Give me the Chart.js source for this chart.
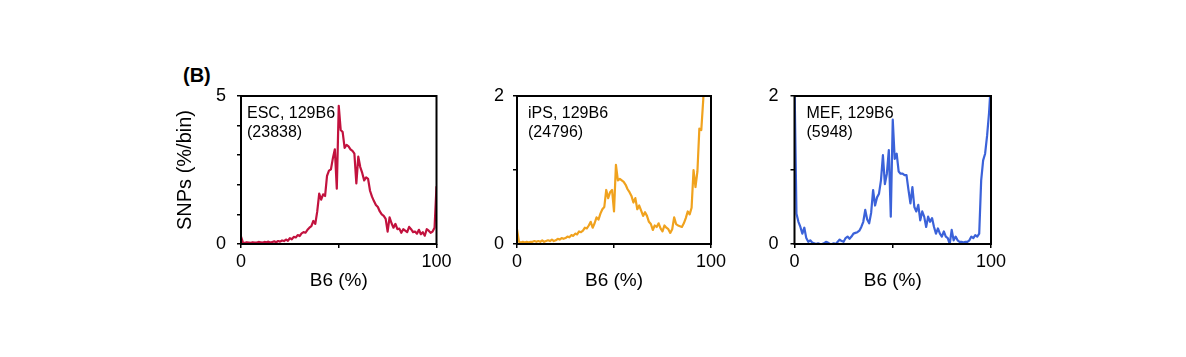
<!DOCTYPE html>
<html><head><meta charset="utf-8">
<script src="https://cdn.jsdelivr.net/npm/chart.js@4"></script>
<style>
html,body{margin:0;padding:0;background:#fff;width:1186px;height:357px;overflow:hidden;}
canvas{position:absolute;top:50px;}
#lbl{position:absolute;left:183px;top:66px;font:bold 20px 'Liberation Sans',Arial,Helvetica,sans-serif;line-height:19px;color:#000;}
</style></head><body>
<div id="lbl">(B)</div>
<canvas id="c1" width="310" height="260" style="left:160px"></canvas>
<canvas id="c2" width="270" height="260" style="left:470px"></canvas>
<canvas id="c3" width="280" height="260" style="left:750px"></canvas>
<script>
// bin positions (% B6)
const bins = [0,1,2,3,4,5,6,7,8,9,10,11,12,13,14,15,16,17,18,19,20,21,22,23,24,25,26,27,28,29,30,31,32,33,34,35,36,37,38,39,40,41,42,43,44,45,46,47,48,49,50,51,52,53,54,55,56,57,58,59,60,61,62,63,64,65,66,67,68,69,70,71,72,73,74,75,76,77,78,79,80,81,82,83,84,85,86,87,88,89,90,91,92,93,94,95,96,97,98,99,100];

// SNPs (%/bin)
const escValues = [0.25,0.05,0.04,0.06,0.05,0.04,0.06,0.05,0.05,0.07,0.06,0.05,0.07,0.06,0.08,0.05,0.07,0.09,0.06,0.1,0.08,0.12,0.1,0.15,0.11,0.2,0.16,0.24,0.22,0.3,0.27,0.36,0.4,0.38,0.48,0.55,0.6,0.78,0.68,1.1,1.7,1.5,1.68,1.62,2.3,2.48,2.52,2.9,3.2,1.87,4.67,3.85,3.78,3.25,3.35,3.3,3.2,3.15,3.05,2.05,2.95,2.6,2.4,2.15,2.25,2.2,1.8,1.6,1.45,1.32,1.25,1.1,1.0,0.95,0.85,0.42,0.9,0.7,0.55,0.68,0.5,0.52,0.38,0.5,0.45,0.4,0.58,0.5,0.4,0.42,0.35,0.48,0.33,0.4,0.28,0.5,0.45,0.38,0.42,0.55,1.95];

const ipsValues = [0.2,0.03,0.02,0.03,0.02,0.03,0.02,0.03,0.03,0.04,0.03,0.04,0.03,0.05,0.03,0.04,0.05,0.04,0.06,0.04,0.05,0.07,0.06,0.08,0.07,0.08,0.1,0.09,0.12,0.11,0.14,0.13,0.17,0.16,0.18,0.22,0.21,0.25,0.3,0.22,0.28,0.36,0.33,0.41,0.47,0.5,0.73,0.62,0.7,0.73,0.44,1.07,0.86,0.88,0.86,0.84,0.8,0.74,0.7,0.65,0.56,0.62,0.47,0.52,0.45,0.38,0.43,0.38,0.3,0.27,0.19,0.25,0.23,0.28,0.21,0.17,0.25,0.22,0.2,0.15,0.2,0.36,0.27,0.25,0.24,0.23,0.28,0.35,0.44,0.4,0.49,1.0,0.77,0.98,1.56,1.54,1.95,2.5,3.1,3.7,4.3];

const mefValues = [2.2,0.41,0.3,0.23,0.14,0.22,0.08,0.03,0.05,0.02,0.01,0.0,0.01,0.0,0.0,0.01,0.03,0.02,0.0,0.0,0.01,0.0,0.03,0.06,0.04,0.03,0.08,0.1,0.07,0.1,0.14,0.15,0.16,0.18,0.23,0.3,0.46,0.33,0.28,0.42,0.73,0.52,0.63,0.68,0.86,1.2,0.81,0.95,1.27,0.37,1.68,1.15,1.22,0.98,0.95,0.95,0.93,0.93,0.73,0.55,0.77,0.5,0.44,0.53,0.32,0.44,0.37,0.23,0.37,0.3,0.35,0.23,0.14,0.21,0.14,0.1,0.17,0.1,0.08,0.0,0.19,0.05,0.1,0.05,0.03,0.03,0.02,0.03,0.03,0.05,0.1,0.08,0.12,0.1,0.14,0.86,1.13,1.22,1.46,1.77,2.2];

const xTicks = [0, 100];
const escYTicks = [0, 5];
const ipsYTicks = [0, 2];
const mefYTicks = [0, 2];
const panelTexts = [["ESC, 129B6", "(23838)"], ["iPS, 129B6", "(24796)"], ["MEF, 129B6", "(5948)"]];
const xTitle = "B6 (%)";
const yTitle = "SNPs (%/bin)";

Chart.defaults.font.family = "'Liberation Sans', Arial, Helvetica, sans-serif";
Chart.defaults.color = '#000';

const framePlugin = {
  id: 'frame',
  afterDatasetsDraw(chart) {
    const {ctx, chartArea: a} = chart;
    ctx.save();
    ctx.strokeStyle = '#000';
    ctx.lineWidth = 2;
    ctx.strokeRect(a.left, a.top, a.right - a.left, a.bottom - a.top);
    const o = chart.options.plugins.panelLabel;
    if (o) {
      ctx.fillStyle = '#000';
      ctx.font = "16px 'Liberation Sans', Arial, Helvetica, sans-serif";
      ctx.textBaseline = 'alphabetic';
      ctx.textAlign = 'left';
      o.lines.forEach((t, i) => ctx.fillText(t, a.left + o.dx, a.top + o.dy + i * o.lh));
    }
    ctx.restore();
  }
};

function makeChart(id, values, color, yTickLabels, o) {
  const yMax = yTickLabels[yTickLabels.length - 1];
  const gridOpts = {display: true, drawOnChartArea: false, drawTicks: true, tickLength: 4, color: '#000', lineWidth: 1.5};
  return new Chart(document.getElementById(id), {
    type: 'line',
    data: {datasets: [{
      data: bins.map((b, i) => ({x: b, y: values[i]})),
      borderColor: color, borderWidth: 2.2, pointRadius: 0, tension: 0, fill: false,
      borderJoinStyle: 'round'
    }]},
    plugins: [framePlugin],
    options: {
      responsive: false, animation: false, devicePixelRatio: 1,
      layout: {padding: {left: o.padLeft, right: o.padRight, top: 46, bottom: 18}},
      plugins: {legend: {display: false}, tooltip: {enabled: false},
        panelLabel: {lines: o.lines, dx: o.dx, dy: 22, lh: 18.5}},
      scales: {
        x: {type: 'linear', min: 0, max: 100,
          ticks: {stepSize: 50, autoSkip: false, maxRotation: 0, padding: 3, font: {size: 18},
            callback: v => xTicks.includes(v) ? String(v) : ''},
          grid: gridOpts, border: {display: false},
          title: {display: true, text: xTitle, font: {size: 19}, padding: 0},
          afterFit: s => { s.height = 48; }
        },
        y: {min: 0, max: yMax,
          ticks: {stepSize: 1, autoSkip: false, padding: o.yPad, font: {size: 18},
            callback: v => yTickLabels.includes(v) ? String(v) : ''},
          grid: gridOpts, border: {display: false},
          title: {display: !!o.yTitle, text: o.yTitle || '', font: {size: 20}, padding: 0},
          afterFit: s => { s.width = o.yWidth; }
        }
      }
    }
  });
}

makeChart('c1', escValues, '#C2123E', escYTicks, {padLeft: 13, yWidth: 68, padRight: 33.5, yPad: 11, yTitle: yTitle, lines: panelTexts[0], dx: 6});
makeChart('c2', ipsValues, '#F0A21E', ipsYTicks, {padLeft: 0, yWidth: 47, padRight: 29, yPad: 9, lines: panelTexts[1], dx: 11});
makeChart('c3', mefValues, '#3B62D9', mefYTicks, {padLeft: 0, yWidth: 44.5, padRight: 39, yPad: 12, lines: panelTexts[2], dx: 12});
</script>
</body></html>
